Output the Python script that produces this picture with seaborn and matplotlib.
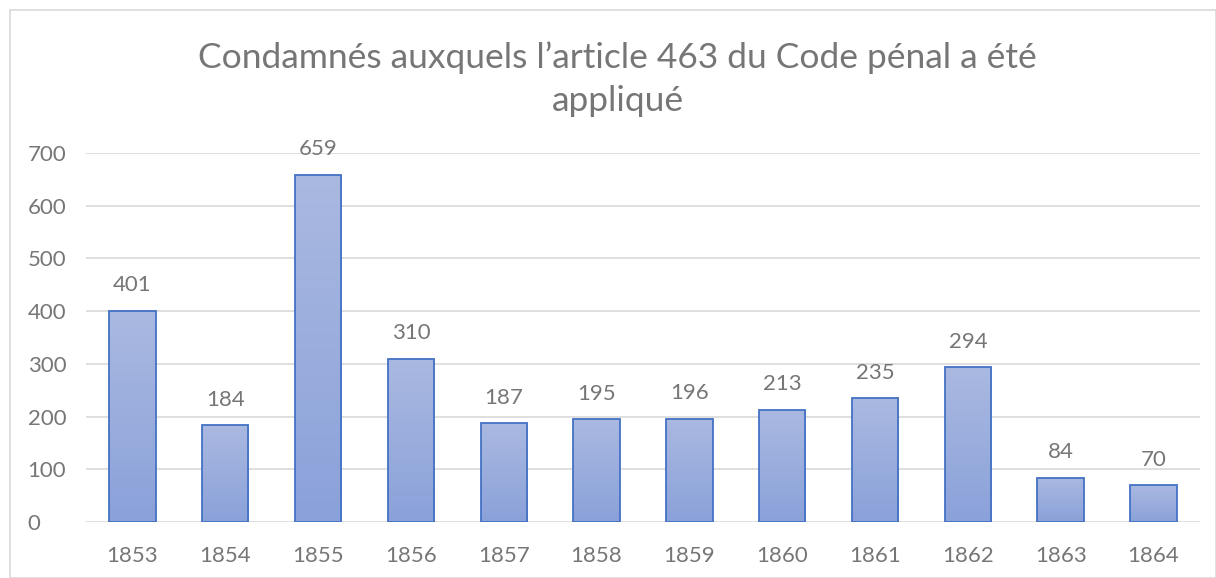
import numpy as np
import pandas as pd
import seaborn as sns
import matplotlib.pyplot as plt
from matplotlib.colors import LinearSegmentedColormap
from matplotlib.patches import Rectangle

years = ["1853", "1854", "1855", "1856", "1857", "1858",
         "1859", "1860", "1861", "1862", "1863", "1864"]
condamnes = [401, 184, 659, 310, 187, 195, 196, 213, 235, 294, 84, 70]

df = pd.DataFrame({"annee": years, "condamnes": condamnes})

sns.set_theme(style="white")
plt.rcParams["font.family"] = ["Lato", "DejaVu Sans"]

gray = "#767676"
fig = plt.figure(figsize=(12.16, 5.78), dpi=100)
ax = fig.add_axes([0.0707, 0.0969, 0.9161, 0.6384])

sns.barplot(data=df, x="annee", y="condamnes", color="#9aaedc",
            width=0.5, edgecolor="#4472c4", linewidth=1.3, ax=ax, zorder=3)

ax.set_ylim(0, 700)
ax.set_xlim(-0.5, len(years) - 0.5)

# gradient fill inside bars (lighter top, darker bottom)
cmap = LinearSegmentedColormap.from_list("grad", ["#8aa1d9", "#aab9e1"])
grad = np.linspace(0, 1, 256).reshape(-1, 1)
for bar in ax.patches:
    x0, y0 = bar.get_x(), bar.get_y()
    w, h = bar.get_width(), bar.get_height()
    im = ax.imshow(grad, cmap=cmap, origin="lower", aspect="auto",
                   extent=[x0, x0 + w, y0, y0 + h], zorder=3)
    im.set_clip_path(bar)
    bar.set_facecolor("none")
    bar.set_zorder(4)

ax.set_xlim(-0.5, len(years) - 0.5)
ax.set_ylim(0, 700)

for i, v in enumerate(condamnes):
    ax.text(i, v + 48, str(v), ha="center", va="center", fontsize=16, color=gray)

ax.set_yticks(range(0, 701, 100))
ax.yaxis.grid(True, color="#d9d9d9", linewidth=1.2, zorder=0)
ax.set_axisbelow(True)
for s in ax.spines.values():
    s.set_visible(False)
ax.tick_params(axis="both", length=0, labelsize=16, labelcolor=gray)
ax.tick_params(axis="x", pad=17)
ax.tick_params(axis="y", pad=42)
for lab in ax.get_yticklabels():
    lab.set_horizontalalignment("left")
ax.set_xlabel("")
ax.set_ylabel("")

fig.text(0.508, 0.863, "Condamnés auxquels l\u2019article 463 du Code pénal a été\nappliqué",
         ha="center", va="center", fontsize=25.5, color=gray, linespacing=1.42)

fig.patches.append(Rectangle((10 / 1216, 0), 1 - 10 / 1216, 1 - 10 / 578,
                             transform=fig.transFigure, fill=False,
                             edgecolor="#d9d9d9", linewidth=1.2))

plt.savefig("out.png", dpi=100)
